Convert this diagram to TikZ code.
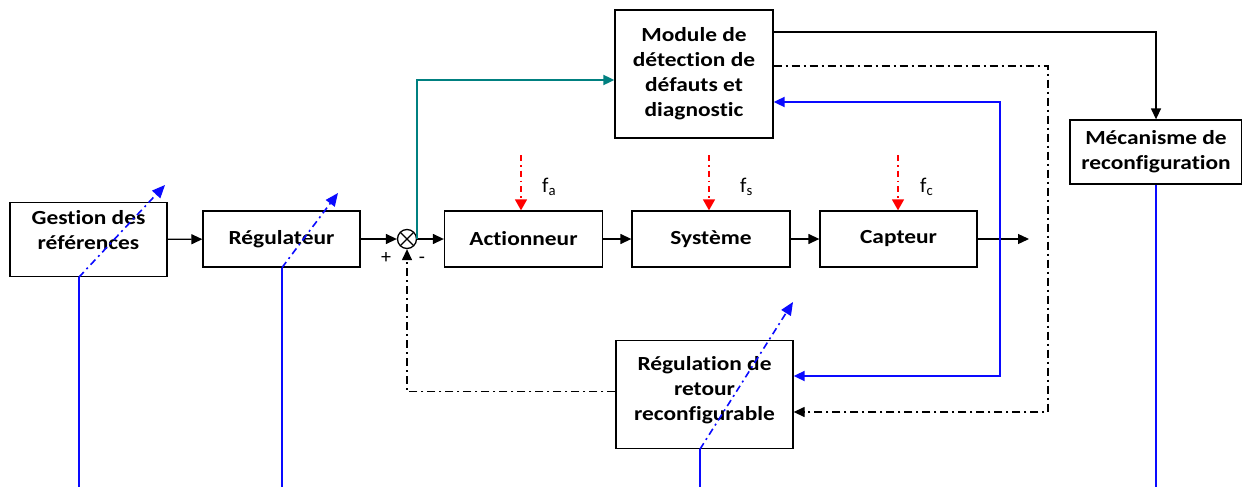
\documentclass[tikz,border=0pt]{standalone}
\usepackage{fontspec}
\setmainfont{Carlito}[Ligatures=NoCommon]
\newfontfamily\boxfont{Carlito}[FakeStretch=1.17, Ligatures=NoCommon]
\usetikzlibrary{arrows.meta,calc}

\definecolor{tealline}{RGB}{0,128,128}
\definecolor{blueline}{RGB}{10,10,255}
\definecolor{redline}{RGB}{255,0,0}

\tikzset{
  blockbox/.style={draw, line width=1.3pt, inner sep=0pt, align=center,
    font=\boxfont\bfseries\fontsize{20}{25}\selectfont},
  tip/.style={-{Triangle[length=11pt,width=10pt]}},
  flow/.style={line width=1.3pt, tip},
  dashdot/.style={dash pattern=on 8pt off 4pt on 2pt off 4pt},
  teal flow/.style={line width=1.8pt, draw=tealline,
    -{Triangle[length=11pt,width=10pt,fill=tealline]}},
  blue flow/.style={line width=1.8pt, draw=blueline,
    {Triangle[length=11pt,width=10pt,fill=blueline]}-{Triangle[length=11pt,width=10pt,fill=blueline]}},
  blue line/.style={line width=1.8pt, draw=blueline},
  blue tune/.style={line width=1.6pt, draw=blueline, dash pattern=on 7pt off 4pt on 2pt off 4pt,
    -{Triangle[length=13pt,width=11pt,fill=blueline]}},
  fault/.style={line width=1.5pt, draw=redline, dash pattern=on 6pt off 4pt on 1.5pt off 4pt,
    -{Triangle[length=11pt,width=12pt,fill=redline]}},
  faultlabel/.style={font=\fontsize{21}{24}\selectfont, anchor=west, inner sep=0pt},
  sumsign/.style={font=\fontsize{20}{22}\selectfont, inner sep=0pt},
}

\begin{document}
\begin{tikzpicture}[x=1pt,y=-1pt]
\useasboundingbox (0,0) rectangle (1242,487);

% --- blocks -----------------------------------------------------------
\node[blockbox, minimum width=157pt, minimum height=74pt] (ges) at (88.5,239.5)
  {Gestion des\\références\\[-6pt]\mbox{}};
\node[blockbox, minimum width=157pt, minimum height=56pt] (reg) at (281.5,239) {Régulateur};
\node[blockbox, minimum width=158pt, minimum height=56pt] (act) at (523.5,239) {Actionneur};
\node[blockbox, minimum width=158pt, minimum height=56pt] (sys) at (711,239) {Système};
\node[blockbox, minimum width=157pt, minimum height=56pt] (cap) at (898.5,239) {Capteur};
\node[blockbox, minimum width=158pt, minimum height=128pt] (mod) at (694,74)
  {Module de\\détection de\\défauts et\\diagnostic};
\node[blockbox, minimum width=172pt, minimum height=64pt] (mec) at (1156,152)
  {Mécanisme de\\reconfiguration};
\node[blockbox, minimum width=177pt, minimum height=108pt] (rgl) at (704.5,394.5)
  {Régulation de\\retour\\reconfigurable\\[-12pt]\mbox{}};

% --- summing junction ---------------------------------------------------
\node[draw, circle, line width=1.3pt, minimum size=19pt, inner sep=0pt,
  path picture={
    \draw[line width=1.1pt] (path picture bounding box.north west) -- (path picture bounding box.south east);
    \draw[line width=1.1pt] (path picture bounding box.north east) -- (path picture bounding box.south west);
  }] (sum) at (407,239) {};
\node[sumsign] (plus) at (386,258) {+};
\node[sumsign] (minus) at (422,260) {-};

% --- main chain ---------------------------------------------------------
\coordinate (out) at (1029,239);
\draw[flow] (ges) -- (reg);
\draw[flow] (reg) -- (sum);
\draw[flow] (sum) -- (act);
\draw[flow] (act) -- (sys);
\draw[flow] (sys) -- (cap);
\draw[flow] (cap) -- (out);

% --- diagnosis input ----------------------------------------------------
\draw[teal flow] (sum.east) |- ($(mod.west)+(0,6)$);

% --- diagnosis to reconfiguration --------------------------------------
\draw[flow] ($(mod.east)+(0,-42)$) -| (mec.north);

% --- reconfiguration signal to the feedback law ------------------------
\coordinate (ddcorner) at (1048,66);
\draw[line width=1.3pt, dashdot, tip] ($(mod.east)+(0,-8)$) -- (ddcorner) |- ($(rgl.east)+(0,17.5)$);

% --- measurement loop -------------------------------------------------
\coordinate (bcorner) at (1000,102);
\coordinate (bcorner2) at (1000,376);
\draw[blue flow] ($(mod.east)+(0,28)$) -- (bcorner) -- (bcorner2) -- ($(rgl.east)+(0,-18.5)$);

% --- feedback to the summing junction ---------------------------------
\draw[line width=1.3pt, dashdot, tip] ($(rgl.west)+(0,-3)$) -| (sum.south);

% --- faults -------------------------------------------------------------
\coordinate (fa) at (521,155);
\coordinate (fs) at (709,155);
\coordinate (fc) at (898,155);
\draw[fault] (fa) -- (fa |- act.north);
\draw[fault] (fs) -- (fs |- sys.north);
\draw[fault] (fc) -- (fc |- cap.north);
\node[faultlabel] (la) at (542,187) {f\textsubscript{a}};
\node[faultlabel] (ls) at (740,187) {f\textsubscript{s}};
\node[faultlabel] (lc) at (920,187) {f\textsubscript{c}};

% --- reconfiguration actions -------------------------------------------
\coordinate (b1) at (79,487);
\coordinate (b2) at (282,487);
\coordinate (b3) at (700,487);
\coordinate (b4) at (1156,487);
\coordinate (t1) at (165,185);
\coordinate (t2) at (338,193);
\coordinate (t3) at (793,302);
\draw[blue line] (b1) -- (b1 |- ges.south);
\draw[blue tune] (b1 |- ges.south) -- (t1);
\draw[blue line] (b2) -- (b2 |- reg.south);
\draw[blue tune] (b2 |- reg.south) -- (t2);
\draw[blue line] (b3) -- (b3 |- rgl.south);
\draw[blue tune] (b3 |- rgl.south) -- (t3);
\draw[blue line] (b4) -- (mec.south -| b4);
\end{tikzpicture}
\end{document}
